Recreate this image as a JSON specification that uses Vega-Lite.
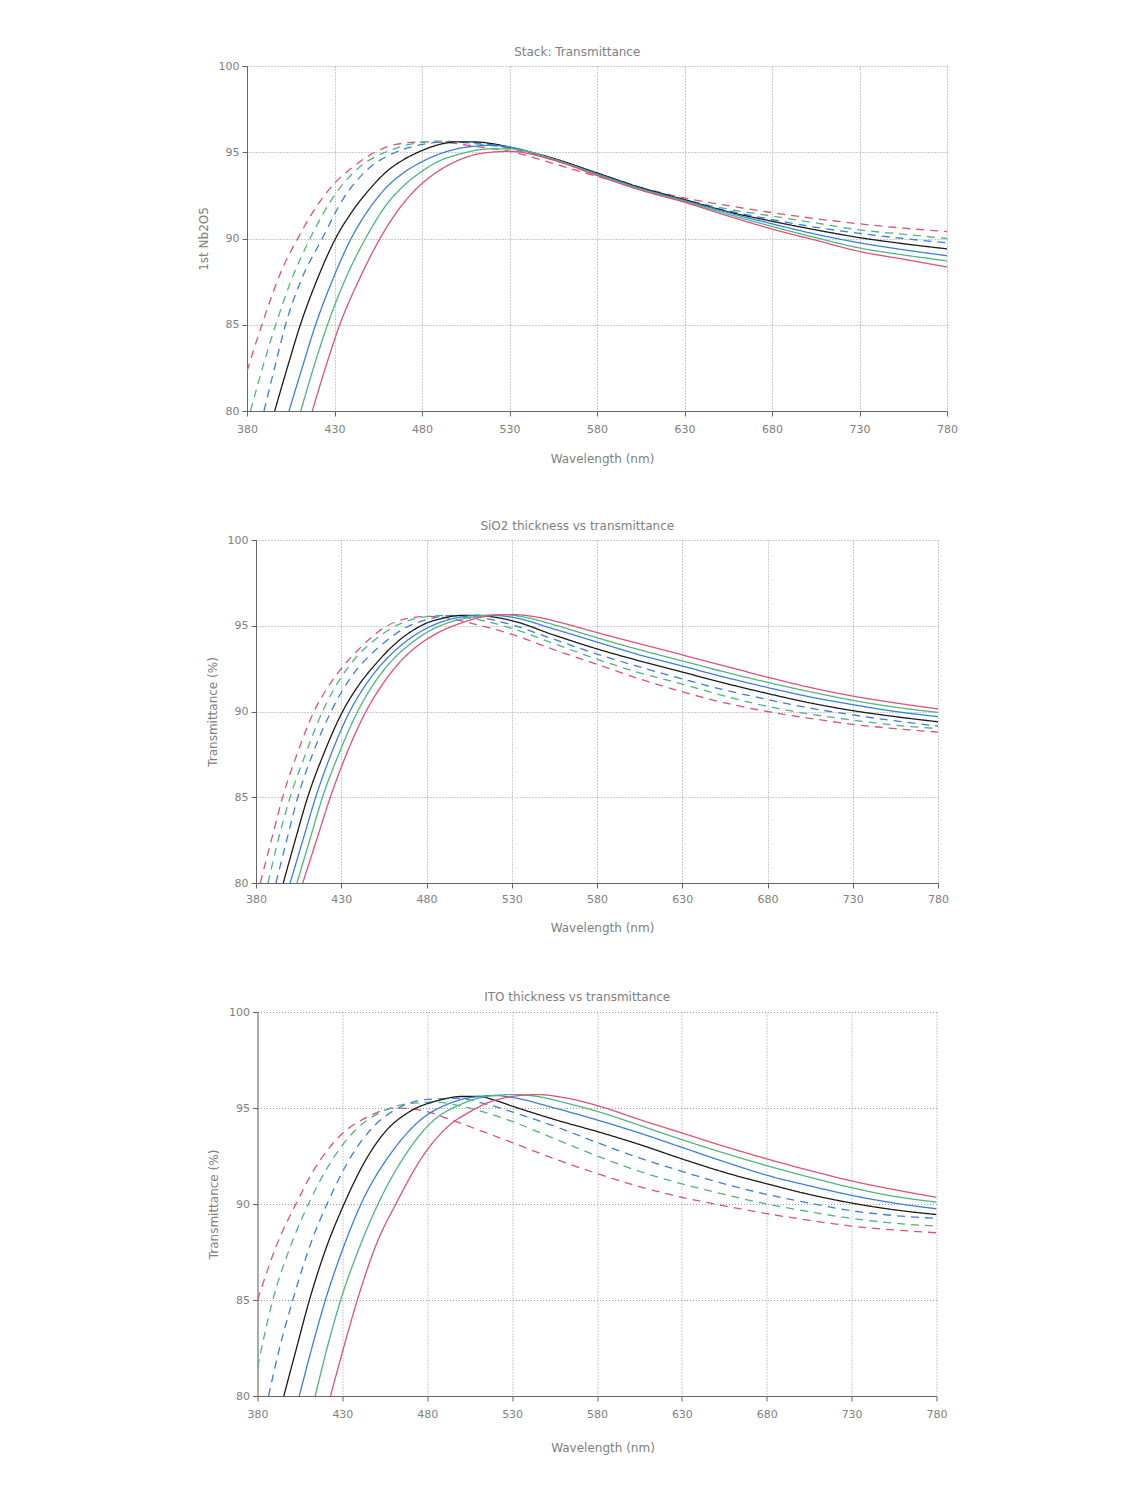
{
"$schema": "https://vega.github.io/schema/vega-lite/v6.json",
"padding": {"left": 197, "top": 46, "right": 5, "bottom": 5},
"background": "white",
"vconcat": [
{
"width": 700, "height": 345,
"title": {"text": "Stack: Transmittance", "offset": 1},
"transform": [{"filter": "datum.panel == 1"}],
"mark": {"type": "line", "clip": true, "interpolate": "monotone"},
"encoding": {
"x": {"field": "nm", "type": "quantitative", "scale": {"domain": [380, 780], "nice": false, "zero": false}, "axis": {"values": [380,430,480,530,580,630,680,730,780], "title": "Wavelength (nm)", "labelPadding": 7, "titlePadding": 19, "titleX": 355}},
"y": {"field": "T", "type": "quantitative", "scale": {"domain": [80, 100], "nice": false, "zero": false}, "axis": {"values": [80,85,90,95,100], "title": "1st Nb2O5", "titlePadding": 8}},
"color": {"field": "curve", "type": "nominal", "legend": null, "scale": {"domain": ["-3","-2","-1","0","+1","+2","+3"], "range": ["#e0507a","#4cb87a","#3a7fdc","#1a1a1a","#3a7fdc","#4cb87a","#e0507a"]}},
"strokeDash": {"field": "curve", "type": "nominal", "legend": null, "scale": {"domain": ["-3","-2","-1","0","+1","+2","+3"], "range": [[8,6],[8,6],[8,6],[1,0],[1,0],[1,0],[1,0]]}},
"strokeWidth": {"field": "curve", "type": "nominal", "legend": null, "scale": {"domain": ["-3","-2","-1","0","+1","+2","+3"], "range": [1.3,1.3,1.3,2.2,1.2,1.2,1.2]}}
}
},
{
"width": 682, "height": 343,
"title": {"text": "SiO2 thickness vs transmittance", "offset": 1},
"transform": [{"filter": "datum.panel == 2"}],
"mark": {"type": "line", "clip": true, "interpolate": "monotone"},
"encoding": {
"x": {"field": "nm", "type": "quantitative", "scale": {"domain": [380, 780], "nice": false, "zero": false}, "axis": {"values": [380,430,480,530,580,630,680,730,780], "title": "Wavelength (nm)", "labelPadding": 5, "titlePadding": 18, "titleX": 346}},
"y": {"field": "T", "type": "quantitative", "scale": {"domain": [80, 100], "nice": false, "zero": false}, "axis": {"values": [80,85,90,95,100], "title": "Transmittance (%)", "titlePadding": 8}},
"color": {"field": "curve", "type": "nominal", "legend": null, "scale": {"domain": ["-3","-2","-1","0","+1","+2","+3"], "range": ["#e0507a","#4cb87a","#3a7fdc","#1a1a1a","#3a7fdc","#4cb87a","#e0507a"]}},
"strokeDash": {"field": "curve", "type": "nominal", "legend": null, "scale": {"domain": ["-3","-2","-1","0","+1","+2","+3"], "range": [[8,6],[8,6],[8,6],[1,0],[1,0],[1,0],[1,0]]}},
"strokeWidth": {"field": "curve", "type": "nominal", "legend": null, "scale": {"domain": ["-3","-2","-1","0","+1","+2","+3"], "range": [1.3,1.3,1.3,2.2,1.2,1.2,1.2]}}
}
},
{
"width": 679, "height": 384,
"title": {"text": "ITO thickness vs transmittance", "offset": 2},
"transform": [{"filter": "datum.panel == 3"}],
"mark": {"type": "line", "clip": true, "interpolate": "monotone"},
"encoding": {
"x": {"field": "nm", "type": "quantitative", "scale": {"domain": [380, 780], "nice": false, "zero": false}, "axis": {"values": [380,430,480,530,580,630,680,730,780], "title": "Wavelength (nm)", "labelPadding": 7, "titlePadding": 23, "titleX": 345}},
"y": {"field": "T", "type": "quantitative", "scale": {"domain": [80, 100], "nice": false, "zero": false}, "axis": {"values": [80,85,90,95,100], "title": "Transmittance (%)", "titlePadding": 8}},
"color": {"field": "curve", "type": "nominal", "legend": null, "scale": {"domain": ["-3","-2","-1","0","+1","+2","+3"], "range": ["#e0507a","#4cb87a","#3a7fdc","#1a1a1a","#3a7fdc","#4cb87a","#e0507a"]}},
"strokeDash": {"field": "curve", "type": "nominal", "legend": null, "scale": {"domain": ["-3","-2","-1","0","+1","+2","+3"], "range": [[8,6],[8,6],[8,6],[1,0],[1,0],[1,0],[1,0]]}},
"strokeWidth": {"field": "curve", "type": "nominal", "legend": null, "scale": {"domain": ["-3","-2","-1","0","+1","+2","+3"], "range": [1.3,1.3,1.3,2.2,1.2,1.2,1.2]}}
}
}
],
"spacing": 129,
"bounds": "flush",
"center": true,
"data": {"values": [
{"panel":1,"curve":"-3","nm":380,"T":82.3},{"panel":1,"curve":"-3","nm":388.5,"T":85},{"panel":1,"curve":"-3","nm":400,"T":88.2},{"panel":1,"curve":"-3","nm":409,"T":90},{"panel":1,"curve":"-3","nm":420,"T":91.9},{"panel":1,"curve":"-3","nm":430,"T":93.2},{"panel":1,"curve":"-3","nm":440,"T":94.1},{"panel":1,"curve":"-3","nm":453,"T":95.0},{"panel":1,"curve":"-3","nm":465,"T":95.45},{"panel":1,"curve":"-3","nm":480,"T":95.6},{"panel":1,"curve":"-3","nm":495,"T":95.55},{"panel":1,"curve":"-3","nm":510,"T":95.35},{"panel":1,"curve":"-3","nm":530,"T":95.05},{"panel":1,"curve":"-3","nm":555,"T":94.35},{"panel":1,"curve":"-3","nm":580,"T":93.6},{"panel":1,"curve":"-3","nm":605,"T":92.95},{"panel":1,"curve":"-3","nm":630,"T":92.35},{"panel":1,"curve":"-3","nm":655,"T":91.9},{"panel":1,"curve":"-3","nm":680,"T":91.5},{"panel":1,"curve":"-3","nm":705,"T":91.15},{"panel":1,"curve":"-3","nm":730,"T":90.85},{"panel":1,"curve":"-3","nm":755,"T":90.6},{"panel":1,"curve":"-3","nm":780,"T":90.4},
{"panel":1,"curve":"-2","nm":382,"T":80},{"panel":1,"curve":"-2","nm":390,"T":82.9},{"panel":1,"curve":"-2","nm":396.4,"T":85},{"panel":1,"curve":"-2","nm":405,"T":87.5},{"panel":1,"curve":"-2","nm":416,"T":90},{"panel":1,"curve":"-2","nm":430,"T":92.5},{"panel":1,"curve":"-2","nm":445,"T":94.2},{"panel":1,"curve":"-2","nm":459,"T":95.0},{"panel":1,"curve":"-2","nm":475,"T":95.5},{"panel":1,"curve":"-2","nm":490,"T":95.65},{"panel":1,"curve":"-2","nm":505,"T":95.55},{"panel":1,"curve":"-2","nm":530,"T":95.2},{"panel":1,"curve":"-2","nm":555,"T":94.55},{"panel":1,"curve":"-2","nm":580,"T":93.75},{"panel":1,"curve":"-2","nm":605,"T":92.95},{"panel":1,"curve":"-2","nm":630,"T":92.25},{"panel":1,"curve":"-2","nm":655,"T":91.7},{"panel":1,"curve":"-2","nm":680,"T":91.3},{"panel":1,"curve":"-2","nm":705,"T":90.9},{"panel":1,"curve":"-2","nm":730,"T":90.5},{"panel":1,"curve":"-2","nm":755,"T":90.25},{"panel":1,"curve":"-2","nm":780,"T":90.0},
{"panel":1,"curve":"-1","nm":389.7,"T":80},{"panel":1,"curve":"-1","nm":396,"T":82.6},{"panel":1,"curve":"-1","nm":402,"T":85},{"panel":1,"curve":"-1","nm":411,"T":87.6},{"panel":1,"curve":"-1","nm":423,"T":90},{"panel":1,"curve":"-1","nm":435,"T":92.3},{"panel":1,"curve":"-1","nm":450,"T":94.1},{"panel":1,"curve":"-1","nm":465,"T":95.0},{"panel":1,"curve":"-1","nm":480,"T":95.45},{"panel":1,"curve":"-1","nm":495,"T":95.6},{"panel":1,"curve":"-1","nm":510,"T":95.55},{"panel":1,"curve":"-1","nm":530,"T":95.25},{"panel":1,"curve":"-1","nm":555,"T":94.6},{"panel":1,"curve":"-1","nm":580,"T":93.8},{"panel":1,"curve":"-1","nm":605,"T":92.95},{"panel":1,"curve":"-1","nm":630,"T":92.25},{"panel":1,"curve":"-1","nm":655,"T":91.6},{"panel":1,"curve":"-1","nm":680,"T":91.1},{"panel":1,"curve":"-1","nm":705,"T":90.65},{"panel":1,"curve":"-1","nm":730,"T":90.3},{"panel":1,"curve":"-1","nm":755,"T":90.0},{"panel":1,"curve":"-1","nm":780,"T":89.75},
{"panel":1,"curve":"0","nm":395.8,"T":80},{"panel":1,"curve":"0","nm":403,"T":82.5},{"panel":1,"curve":"0","nm":410.5,"T":85},{"panel":1,"curve":"0","nm":420,"T":87.6},{"panel":1,"curve":"0","nm":430.6,"T":90},{"panel":1,"curve":"0","nm":440,"T":91.55},{"panel":1,"curve":"0","nm":450,"T":92.85},{"panel":1,"curve":"0","nm":460,"T":93.9},{"panel":1,"curve":"0","nm":470,"T":94.6},{"panel":1,"curve":"0","nm":480,"T":95.1},{"panel":1,"curve":"0","nm":490,"T":95.45},{"panel":1,"curve":"0","nm":500,"T":95.6},{"panel":1,"curve":"0","nm":510,"T":95.6},{"panel":1,"curve":"0","nm":520,"T":95.5},{"panel":1,"curve":"0","nm":530,"T":95.3},{"panel":1,"curve":"0","nm":555,"T":94.65},{"panel":1,"curve":"0","nm":580,"T":93.8},{"panel":1,"curve":"0","nm":605,"T":92.95},{"panel":1,"curve":"0","nm":630,"T":92.25},{"panel":1,"curve":"0","nm":655,"T":91.55},{"panel":1,"curve":"0","nm":680,"T":91.0},{"panel":1,"curve":"0","nm":705,"T":90.5},{"panel":1,"curve":"0","nm":730,"T":90.05},{"panel":1,"curve":"0","nm":755,"T":89.7},{"panel":1,"curve":"0","nm":780,"T":89.4},
{"panel":1,"curve":"+1","nm":404,"T":80},{"panel":1,"curve":"+1","nm":411.5,"T":82.5},{"panel":1,"curve":"+1","nm":419.2,"T":85},{"panel":1,"curve":"+1","nm":428.5,"T":87.5},{"panel":1,"curve":"+1","nm":439.5,"T":90},{"panel":1,"curve":"+1","nm":450,"T":91.75},{"panel":1,"curve":"+1","nm":460,"T":93.0},{"panel":1,"curve":"+1","nm":470,"T":93.85},{"panel":1,"curve":"+1","nm":480,"T":94.45},{"panel":1,"curve":"+1","nm":490,"T":94.9},{"panel":1,"curve":"+1","nm":500,"T":95.2},{"panel":1,"curve":"+1","nm":510,"T":95.35},{"panel":1,"curve":"+1","nm":520,"T":95.4},{"panel":1,"curve":"+1","nm":530,"T":95.3},{"panel":1,"curve":"+1","nm":555,"T":94.6},{"panel":1,"curve":"+1","nm":580,"T":93.75},{"panel":1,"curve":"+1","nm":605,"T":92.9},{"panel":1,"curve":"+1","nm":630,"T":92.2},{"panel":1,"curve":"+1","nm":655,"T":91.5},{"panel":1,"curve":"+1","nm":680,"T":90.85},{"panel":1,"curve":"+1","nm":705,"T":90.25},{"panel":1,"curve":"+1","nm":730,"T":89.75},{"panel":1,"curve":"+1","nm":755,"T":89.35},{"panel":1,"curve":"+1","nm":780,"T":89.0},
{"panel":1,"curve":"+2","nm":410.7,"T":80},{"panel":1,"curve":"+2","nm":418,"T":82.5},{"panel":1,"curve":"+2","nm":426,"T":85},{"panel":1,"curve":"+2","nm":436,"T":87.6},{"panel":1,"curve":"+2","nm":447.7,"T":90},{"panel":1,"curve":"+2","nm":460,"T":92.0},{"panel":1,"curve":"+2","nm":470,"T":93.1},{"panel":1,"curve":"+2","nm":480,"T":93.9},{"panel":1,"curve":"+2","nm":490,"T":94.5},{"panel":1,"curve":"+2","nm":500,"T":94.85},{"panel":1,"curve":"+2","nm":510,"T":95.1},{"panel":1,"curve":"+2","nm":520,"T":95.2},{"panel":1,"curve":"+2","nm":530,"T":95.2},{"panel":1,"curve":"+2","nm":555,"T":94.6},{"panel":1,"curve":"+2","nm":580,"T":93.7},{"panel":1,"curve":"+2","nm":605,"T":92.85},{"panel":1,"curve":"+2","nm":630,"T":92.15},{"panel":1,"curve":"+2","nm":655,"T":91.4},{"panel":1,"curve":"+2","nm":680,"T":90.7},{"panel":1,"curve":"+2","nm":705,"T":90.05},{"panel":1,"curve":"+2","nm":730,"T":89.45},{"panel":1,"curve":"+2","nm":755,"T":89.05},{"panel":1,"curve":"+2","nm":780,"T":88.7},
{"panel":1,"curve":"+3","nm":417.3,"T":80},{"panel":1,"curve":"+3","nm":424.5,"T":82.4},{"panel":1,"curve":"+3","nm":433,"T":85},{"panel":1,"curve":"+3","nm":444,"T":87.6},{"panel":1,"curve":"+3","nm":456,"T":90},{"panel":1,"curve":"+3","nm":465,"T":91.45},{"panel":1,"curve":"+3","nm":475,"T":92.7},{"panel":1,"curve":"+3","nm":485,"T":93.6},{"panel":1,"curve":"+3","nm":495,"T":94.25},{"panel":1,"curve":"+3","nm":505,"T":94.7},{"panel":1,"curve":"+3","nm":515,"T":94.95},{"panel":1,"curve":"+3","nm":530,"T":95.05},{"panel":1,"curve":"+3","nm":555,"T":94.55},{"panel":1,"curve":"+3","nm":580,"T":93.65},{"panel":1,"curve":"+3","nm":605,"T":92.8},{"panel":1,"curve":"+3","nm":630,"T":92.1},{"panel":1,"curve":"+3","nm":655,"T":91.3},{"panel":1,"curve":"+3","nm":680,"T":90.55},{"panel":1,"curve":"+3","nm":705,"T":89.9},{"panel":1,"curve":"+3","nm":730,"T":89.25},{"panel":1,"curve":"+3","nm":755,"T":88.8},{"panel":1,"curve":"+3","nm":780,"T":88.35},

{"panel":2,"curve":"-3","nm":382.5,"T":80},{"panel":2,"curve":"-3","nm":389,"T":82.5},{"panel":2,"curve":"-3","nm":395.6,"T":85},{"panel":2,"curve":"-3","nm":404,"T":87.5},{"panel":2,"curve":"-3","nm":414,"T":90},{"panel":2,"curve":"-3","nm":422,"T":91.4},{"panel":2,"curve":"-3","nm":430,"T":92.5},{"panel":2,"curve":"-3","nm":440,"T":93.6},{"panel":2,"curve":"-3","nm":457,"T":95.0},{"panel":2,"curve":"-3","nm":470,"T":95.45},{"panel":2,"curve":"-3","nm":482,"T":95.55},{"panel":2,"curve":"-3","nm":495,"T":95.4},{"panel":2,"curve":"-3","nm":510,"T":95.05},{"panel":2,"curve":"-3","nm":530,"T":94.5},{"panel":2,"curve":"-3","nm":555,"T":93.6},{"panel":2,"curve":"-3","nm":580,"T":92.75},{"panel":2,"curve":"-3","nm":605,"T":91.9},{"panel":2,"curve":"-3","nm":630,"T":91.15},{"panel":2,"curve":"-3","nm":655,"T":90.5},{"panel":2,"curve":"-3","nm":680,"T":90.0},{"panel":2,"curve":"-3","nm":705,"T":89.6},{"panel":2,"curve":"-3","nm":730,"T":89.25},{"panel":2,"curve":"-3","nm":755,"T":89.0},{"panel":2,"curve":"-3","nm":780,"T":88.8},
{"panel":2,"curve":"-2","nm":387,"T":80},{"panel":2,"curve":"-2","nm":393,"T":82.5},{"panel":2,"curve":"-2","nm":400,"T":85},{"panel":2,"curve":"-2","nm":409,"T":87.5},{"panel":2,"curve":"-2","nm":419,"T":90},{"panel":2,"curve":"-2","nm":430,"T":92.0},{"panel":2,"curve":"-2","nm":440,"T":93.3},{"panel":2,"curve":"-2","nm":450,"T":94.2},{"panel":2,"curve":"-2","nm":462,"T":95.0},{"panel":2,"curve":"-2","nm":475,"T":95.45},{"panel":2,"curve":"-2","nm":490,"T":95.6},{"panel":2,"curve":"-2","nm":505,"T":95.45},{"panel":2,"curve":"-2","nm":530,"T":94.85},{"panel":2,"curve":"-2","nm":555,"T":93.95},{"panel":2,"curve":"-2","nm":580,"T":93.05},{"panel":2,"curve":"-2","nm":605,"T":92.25},{"panel":2,"curve":"-2","nm":630,"T":91.6},{"panel":2,"curve":"-2","nm":655,"T":90.9},{"panel":2,"curve":"-2","nm":680,"T":90.3},{"panel":2,"curve":"-2","nm":705,"T":89.85},{"panel":2,"curve":"-2","nm":730,"T":89.5},{"panel":2,"curve":"-2","nm":755,"T":89.2},{"panel":2,"curve":"-2","nm":780,"T":89.0},
{"panel":2,"curve":"-1","nm":391.7,"T":80},{"panel":2,"curve":"-1","nm":398,"T":82.5},{"panel":2,"curve":"-1","nm":404.5,"T":85},{"panel":2,"curve":"-1","nm":413.5,"T":87.6},{"panel":2,"curve":"-1","nm":424,"T":90},{"panel":2,"curve":"-1","nm":435,"T":91.9},{"panel":2,"curve":"-1","nm":445,"T":93.1},{"panel":2,"curve":"-1","nm":455,"T":94.0},{"panel":2,"curve":"-1","nm":468,"T":94.9},{"panel":2,"curve":"-1","nm":480,"T":95.35},{"panel":2,"curve":"-1","nm":495,"T":95.6},{"panel":2,"curve":"-1","nm":510,"T":95.5},{"panel":2,"curve":"-1","nm":530,"T":95.05},{"panel":2,"curve":"-1","nm":555,"T":94.2},{"panel":2,"curve":"-1","nm":580,"T":93.35},{"panel":2,"curve":"-1","nm":605,"T":92.6},{"panel":2,"curve":"-1","nm":630,"T":91.9},{"panel":2,"curve":"-1","nm":655,"T":91.25},{"panel":2,"curve":"-1","nm":680,"T":90.7},{"panel":2,"curve":"-1","nm":705,"T":90.2},{"panel":2,"curve":"-1","nm":730,"T":89.8},{"panel":2,"curve":"-1","nm":755,"T":89.45},{"panel":2,"curve":"-1","nm":780,"T":89.15},
{"panel":2,"curve":"0","nm":396,"T":80},{"panel":2,"curve":"0","nm":403,"T":82.5},{"panel":2,"curve":"0","nm":410.3,"T":85},{"panel":2,"curve":"0","nm":420,"T":87.6},{"panel":2,"curve":"0","nm":430.8,"T":90},{"panel":2,"curve":"0","nm":440,"T":91.5},{"panel":2,"curve":"0","nm":450,"T":92.75},{"panel":2,"curve":"0","nm":460,"T":93.8},{"panel":2,"curve":"0","nm":470,"T":94.6},{"panel":2,"curve":"0","nm":480,"T":95.15},{"panel":2,"curve":"0","nm":490,"T":95.45},{"panel":2,"curve":"0","nm":500,"T":95.6},{"panel":2,"curve":"0","nm":510,"T":95.6},{"panel":2,"curve":"0","nm":520,"T":95.5},{"panel":2,"curve":"0","nm":530,"T":95.3},{"panel":2,"curve":"0","nm":555,"T":94.45},{"panel":2,"curve":"0","nm":580,"T":93.65},{"panel":2,"curve":"0","nm":605,"T":92.95},{"panel":2,"curve":"0","nm":630,"T":92.3},{"panel":2,"curve":"0","nm":655,"T":91.65},{"panel":2,"curve":"0","nm":680,"T":91.05},{"panel":2,"curve":"0","nm":705,"T":90.5},{"panel":2,"curve":"0","nm":730,"T":90.05},{"panel":2,"curve":"0","nm":755,"T":89.7},{"panel":2,"curve":"0","nm":780,"T":89.4},
{"panel":2,"curve":"+1","nm":400,"T":80},{"panel":2,"curve":"+1","nm":407.5,"T":82.5},{"panel":2,"curve":"+1","nm":415,"T":85},{"panel":2,"curve":"+1","nm":424,"T":87.5},{"panel":2,"curve":"+1","nm":435,"T":90},{"panel":2,"curve":"+1","nm":445,"T":91.65},{"panel":2,"curve":"+1","nm":455,"T":92.9},{"panel":2,"curve":"+1","nm":465,"T":93.85},{"panel":2,"curve":"+1","nm":480,"T":94.85},{"panel":2,"curve":"+1","nm":495,"T":95.4},{"panel":2,"curve":"+1","nm":510,"T":95.6},{"panel":2,"curve":"+1","nm":520,"T":95.6},{"panel":2,"curve":"+1","nm":530,"T":95.5},{"panel":2,"curve":"+1","nm":555,"T":94.8},{"panel":2,"curve":"+1","nm":580,"T":94.05},{"panel":2,"curve":"+1","nm":605,"T":93.3},{"panel":2,"curve":"+1","nm":630,"T":92.65},{"panel":2,"curve":"+1","nm":655,"T":92.0},{"panel":2,"curve":"+1","nm":680,"T":91.4},{"panel":2,"curve":"+1","nm":705,"T":90.85},{"panel":2,"curve":"+1","nm":730,"T":90.4},{"panel":2,"curve":"+1","nm":755,"T":90.0},{"panel":2,"curve":"+1","nm":780,"T":89.7},
{"panel":2,"curve":"+2","nm":404,"T":80},{"panel":2,"curve":"+2","nm":411.5,"T":82.5},{"panel":2,"curve":"+2","nm":419,"T":85},{"panel":2,"curve":"+2","nm":428.5,"T":87.5},{"panel":2,"curve":"+2","nm":439.6,"T":90},{"panel":2,"curve":"+2","nm":450,"T":91.75},{"panel":2,"curve":"+2","nm":460,"T":93.0},{"panel":2,"curve":"+2","nm":470,"T":93.9},{"panel":2,"curve":"+2","nm":480,"T":94.6},{"panel":2,"curve":"+2","nm":495,"T":95.25},{"panel":2,"curve":"+2","nm":510,"T":95.55},{"panel":2,"curve":"+2","nm":525,"T":95.65},{"panel":2,"curve":"+2","nm":540,"T":95.45},{"panel":2,"curve":"+2","nm":555,"T":95.05},{"panel":2,"curve":"+2","nm":580,"T":94.3},{"panel":2,"curve":"+2","nm":605,"T":93.6},{"panel":2,"curve":"+2","nm":630,"T":92.95},{"panel":2,"curve":"+2","nm":655,"T":92.3},{"panel":2,"curve":"+2","nm":680,"T":91.7},{"panel":2,"curve":"+2","nm":705,"T":91.15},{"panel":2,"curve":"+2","nm":730,"T":90.65},{"panel":2,"curve":"+2","nm":755,"T":90.25},{"panel":2,"curve":"+2","nm":780,"T":89.95},
{"panel":2,"curve":"+3","nm":407.4,"T":80},{"panel":2,"curve":"+3","nm":415.5,"T":82.5},{"panel":2,"curve":"+3","nm":423.6,"T":85},{"panel":2,"curve":"+3","nm":433,"T":87.5},{"panel":2,"curve":"+3","nm":444.5,"T":90},{"panel":2,"curve":"+3","nm":455,"T":91.7},{"panel":2,"curve":"+3","nm":465,"T":92.95},{"panel":2,"curve":"+3","nm":475,"T":93.85},{"panel":2,"curve":"+3","nm":485,"T":94.5},{"panel":2,"curve":"+3","nm":500,"T":95.15},{"panel":2,"curve":"+3","nm":515,"T":95.55},{"panel":2,"curve":"+3","nm":530,"T":95.65},{"panel":2,"curve":"+3","nm":545,"T":95.5},{"panel":2,"curve":"+3","nm":560,"T":95.15},{"panel":2,"curve":"+3","nm":580,"T":94.6},{"panel":2,"curve":"+3","nm":605,"T":93.95},{"panel":2,"curve":"+3","nm":630,"T":93.3},{"panel":2,"curve":"+3","nm":655,"T":92.65},{"panel":2,"curve":"+3","nm":680,"T":92.0},{"panel":2,"curve":"+3","nm":705,"T":91.4},{"panel":2,"curve":"+3","nm":730,"T":90.9},{"panel":2,"curve":"+3","nm":755,"T":90.5},{"panel":2,"curve":"+3","nm":780,"T":90.15},

{"panel":3,"curve":"-3","nm":380,"T":85.0},{"panel":3,"curve":"-3","nm":383,"T":85.8},{"panel":3,"curve":"-3","nm":391,"T":87.8},{"panel":3,"curve":"-3","nm":402.6,"T":90},{"panel":3,"curve":"-3","nm":414.4,"T":91.95},{"panel":3,"curve":"-3","nm":428,"T":93.5},{"panel":3,"curve":"-3","nm":444,"T":94.5},{"panel":3,"curve":"-3","nm":462,"T":95.0},{"panel":3,"curve":"-3","nm":478,"T":94.85},{"panel":3,"curve":"-3","nm":495,"T":94.35},{"panel":3,"curve":"-3","nm":512,"T":93.8},{"panel":3,"curve":"-3","nm":530,"T":93.2},{"panel":3,"curve":"-3","nm":555,"T":92.35},{"panel":3,"curve":"-3","nm":583,"T":91.5},{"panel":3,"curve":"-3","nm":605,"T":90.9},{"panel":3,"curve":"-3","nm":630,"T":90.35},{"panel":3,"curve":"-3","nm":655,"T":89.9},{"panel":3,"curve":"-3","nm":680,"T":89.5},{"panel":3,"curve":"-3","nm":705,"T":89.15},{"panel":3,"curve":"-3","nm":730,"T":88.85},{"panel":3,"curve":"-3","nm":755,"T":88.65},{"panel":3,"curve":"-3","nm":780,"T":88.5},
{"panel":3,"curve":"-2","nm":380,"T":81.5},{"panel":3,"curve":"-2","nm":389,"T":85},{"panel":3,"curve":"-2","nm":399,"T":87.7},{"panel":3,"curve":"-2","nm":410,"T":90},{"panel":3,"curve":"-2","nm":424,"T":92.3},{"panel":3,"curve":"-2","nm":436,"T":93.7},{"panel":3,"curve":"-2","nm":452,"T":94.75},{"panel":3,"curve":"-2","nm":467,"T":95.2},{"panel":3,"curve":"-2","nm":485,"T":95.3},{"panel":3,"curve":"-2","nm":500,"T":95.1},{"panel":3,"curve":"-2","nm":515,"T":94.75},{"panel":3,"curve":"-2","nm":530,"T":94.3},{"panel":3,"curve":"-2","nm":555,"T":93.4},{"panel":3,"curve":"-2","nm":583,"T":92.4},{"panel":3,"curve":"-2","nm":605,"T":91.7},{"panel":3,"curve":"-2","nm":630,"T":91.05},{"panel":3,"curve":"-2","nm":655,"T":90.5},{"panel":3,"curve":"-2","nm":680,"T":90.0},{"panel":3,"curve":"-2","nm":705,"T":89.6},{"panel":3,"curve":"-2","nm":730,"T":89.25},{"panel":3,"curve":"-2","nm":755,"T":89.0},{"panel":3,"curve":"-2","nm":780,"T":88.85},
{"panel":3,"curve":"-1","nm":386.5,"T":80},{"panel":3,"curve":"-1","nm":393,"T":82.5},{"panel":3,"curve":"-1","nm":400.8,"T":85},{"panel":3,"curve":"-1","nm":412,"T":88.1},{"panel":3,"curve":"-1","nm":422,"T":90.2},{"panel":3,"curve":"-1","nm":436,"T":92.6},{"panel":3,"curve":"-1","nm":448,"T":94.0},{"panel":3,"curve":"-1","nm":463,"T":95.0},{"panel":3,"curve":"-1","nm":480,"T":95.45},{"panel":3,"curve":"-1","nm":498,"T":95.5},{"panel":3,"curve":"-1","nm":515,"T":95.2},{"panel":3,"curve":"-1","nm":530,"T":94.8},{"panel":3,"curve":"-1","nm":555,"T":94.05},{"panel":3,"curve":"-1","nm":583,"T":93.1},{"panel":3,"curve":"-1","nm":605,"T":92.4},{"panel":3,"curve":"-1","nm":630,"T":91.7},{"panel":3,"curve":"-1","nm":655,"T":91.05},{"panel":3,"curve":"-1","nm":680,"T":90.5},{"panel":3,"curve":"-1","nm":705,"T":90.05},{"panel":3,"curve":"-1","nm":730,"T":89.65},{"panel":3,"curve":"-1","nm":755,"T":89.4},{"panel":3,"curve":"-1","nm":780,"T":89.25},
{"panel":3,"curve":"0","nm":395.5,"T":80},{"panel":3,"curve":"0","nm":403,"T":82.5},{"panel":3,"curve":"0","nm":410.6,"T":85},{"panel":3,"curve":"0","nm":420,"T":87.6},{"panel":3,"curve":"0","nm":431,"T":90},{"panel":3,"curve":"0","nm":443.8,"T":92.3},{"panel":3,"curve":"0","nm":455.6,"T":93.8},{"panel":3,"curve":"0","nm":469.4,"T":94.8},{"panel":3,"curve":"0","nm":487,"T":95.4},{"panel":3,"curve":"0","nm":500,"T":95.6},{"panel":3,"curve":"0","nm":510,"T":95.6},{"panel":3,"curve":"0","nm":520,"T":95.4},{"panel":3,"curve":"0","nm":530,"T":95.1},{"panel":3,"curve":"0","nm":555,"T":94.4},{"panel":3,"curve":"0","nm":583,"T":93.7},{"panel":3,"curve":"0","nm":605,"T":93.1},{"panel":3,"curve":"0","nm":630,"T":92.35},{"panel":3,"curve":"0","nm":655,"T":91.65},{"panel":3,"curve":"0","nm":680,"T":91.05},{"panel":3,"curve":"0","nm":705,"T":90.5},{"panel":3,"curve":"0","nm":730,"T":90.05},{"panel":3,"curve":"0","nm":755,"T":89.7},{"panel":3,"curve":"0","nm":780,"T":89.45},
{"panel":3,"curve":"+1","nm":404.6,"T":80},{"panel":3,"curve":"+1","nm":412,"T":82.5},{"panel":3,"curve":"+1","nm":420,"T":85},{"panel":3,"curve":"+1","nm":430,"T":87.6},{"panel":3,"curve":"+1","nm":441,"T":90},{"panel":3,"curve":"+1","nm":459.5,"T":92.75},{"panel":3,"curve":"+1","nm":475,"T":94.3},{"panel":3,"curve":"+1","nm":495,"T":95.3},{"panel":3,"curve":"+1","nm":510,"T":95.6},{"panel":3,"curve":"+1","nm":520,"T":95.65},{"panel":3,"curve":"+1","nm":530,"T":95.55},{"panel":3,"curve":"+1","nm":555,"T":95.0},{"panel":3,"curve":"+1","nm":583,"T":94.3},{"panel":3,"curve":"+1","nm":605,"T":93.7},{"panel":3,"curve":"+1","nm":630,"T":92.95},{"panel":3,"curve":"+1","nm":655,"T":92.2},{"panel":3,"curve":"+1","nm":680,"T":91.5},{"panel":3,"curve":"+1","nm":705,"T":90.95},{"panel":3,"curve":"+1","nm":730,"T":90.45},{"panel":3,"curve":"+1","nm":755,"T":90.05},{"panel":3,"curve":"+1","nm":780,"T":89.75},
{"panel":3,"curve":"+2","nm":414,"T":80},{"panel":3,"curve":"+2","nm":421,"T":82.5},{"panel":3,"curve":"+2","nm":429,"T":85},{"panel":3,"curve":"+2","nm":439,"T":87.5},{"panel":3,"curve":"+2","nm":451,"T":90},{"panel":3,"curve":"+2","nm":467.4,"T":92.6},{"panel":3,"curve":"+2","nm":483,"T":94.3},{"panel":3,"curve":"+2","nm":500,"T":95.2},{"panel":3,"curve":"+2","nm":515,"T":95.6},{"panel":3,"curve":"+2","nm":530,"T":95.7},{"panel":3,"curve":"+2","nm":545,"T":95.6},{"panel":3,"curve":"+2","nm":560,"T":95.3},{"panel":3,"curve":"+2","nm":583,"T":94.75},{"panel":3,"curve":"+2","nm":605,"T":94.1},{"panel":3,"curve":"+2","nm":630,"T":93.35},{"panel":3,"curve":"+2","nm":655,"T":92.65},{"panel":3,"curve":"+2","nm":680,"T":92.0},{"panel":3,"curve":"+2","nm":705,"T":91.4},{"panel":3,"curve":"+2","nm":730,"T":90.85},{"panel":3,"curve":"+2","nm":755,"T":90.4},{"panel":3,"curve":"+2","nm":780,"T":90.1},
{"panel":3,"curve":"+3","nm":423,"T":80},{"panel":3,"curve":"+3","nm":431,"T":82.6},{"panel":3,"curve":"+3","nm":439.5,"T":85.2},{"panel":3,"curve":"+3","nm":450,"T":87.9},{"panel":3,"curve":"+3","nm":461.5,"T":90},{"panel":3,"curve":"+3","nm":479,"T":92.7},{"panel":3,"curve":"+3","nm":493,"T":94.1},{"panel":3,"curve":"+3","nm":505,"T":94.8},{"panel":3,"curve":"+3","nm":515,"T":95.25},{"panel":3,"curve":"+3","nm":530,"T":95.6},{"panel":3,"curve":"+3","nm":545,"T":95.7},{"panel":3,"curve":"+3","nm":560,"T":95.55},{"panel":3,"curve":"+3","nm":583,"T":95.05},{"panel":3,"curve":"+3","nm":605,"T":94.4},{"panel":3,"curve":"+3","nm":630,"T":93.7},{"panel":3,"curve":"+3","nm":655,"T":93.0},{"panel":3,"curve":"+3","nm":680,"T":92.35},{"panel":3,"curve":"+3","nm":705,"T":91.75},{"panel":3,"curve":"+3","nm":730,"T":91.2},{"panel":3,"curve":"+3","nm":755,"T":90.75},{"panel":3,"curve":"+3","nm":780,"T":90.35}
]},
"config": {
"view": {"stroke": null},
"axis": {"labelFont": "DejaVu Sans", "labelFontSize": 11, "labelColor": "#808080", "labelFlush": false, "titleFont": "DejaVu Sans", "titleFontSize": 12, "titleColor": "#808080", "titleFontWeight": "normal", "gridColor": "#999", "gridDash": [1, 2], "gridOpacity": 1, "gridWidth": 1, "domainColor": "#666", "tickColor": "#666", "tickSize": 5, "labelPadding": 3},
"title": {"font": "DejaVu Sans", "fontSize": 12, "fontWeight": "normal", "color": "#808080", "anchor": "middle", "frame": "bounds"}
}
}
